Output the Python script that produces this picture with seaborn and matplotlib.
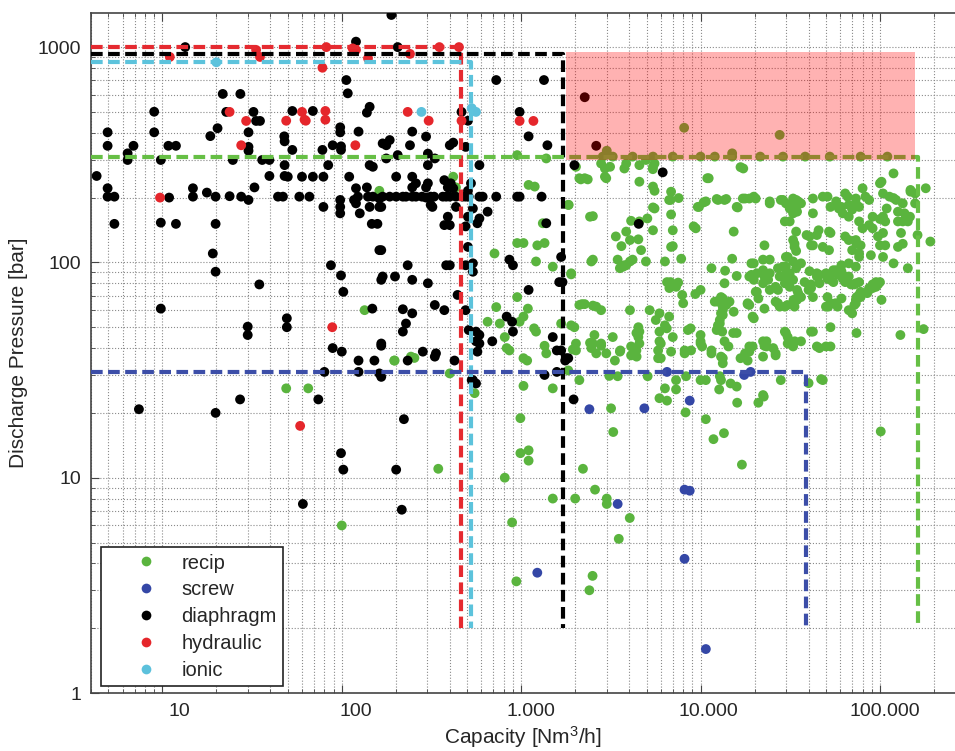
import pandas as pd
import matplotlib
matplotlib.use("Agg")
import matplotlib.pyplot as plt
import matplotlib.ticker as mticker
import matplotlib.transforms as mtransforms
from matplotlib.lines import Line2D
from matplotlib.patches import Rectangle
import seaborn as sns

# compressor types, legend order
types = ["recip", "screw", "diaphragm", "hydraulic", "ionic"]
point_colors = {"recip": "#5ab43e", "screw": "#3447a6", "diaphragm": "#000000",
                "hydraulic": "#e5262b", "ionic": "#5cc1dc"}

# (capacity [Nm3/h], discharge pressure [bar])
recip = [
    (49, 26), (65, 26), (134, 60), (196, 35), (345, 11), (100, 6), (162, 215), (418, 250), (433, 223),
    (197, 35), (243, 36.5), (254, 36), (400, 30.5), (550, 24.7),
    (950, 315), (1380, 304), (1100, 229), (1190, 225), (1320, 152), (1830, 185), (950, 123), (1030, 123),
    (1230, 120), (1350, 123), (710, 110), (1210, 101), (1500, 95.5), (1900, 89), (950, 69), (726, 62),
    (1090, 61), (650, 53), (760, 52), (810, 45), (1030, 56), (980, 53), (1180, 49.4), (1210, 47.7),
    (830, 40), (860, 39), (1350, 41), (1380, 37.8), (1030, 35.9), (1080, 35), (1900, 51), (1670, 52),
    (1030, 26.7), (1500, 26), (1830, 31.5), (990, 18.9), (990, 13), (1100, 13.4), (1100, 12), (810, 10),
    (890, 6.2), (940, 3.3), (1500, 8), (1940, 39.4), (2020, 42), (2020, 39), (1980, 50), (1840, 185),
    (1900, 88), (2020, 278),
    # 2.000 - 10.000, upper
    (2150, 243), (2350, 243), (2930, 273), (2930, 250), (3760, 273), (4560, 283), (4560, 237), (5430, 278),
    (5540, 288), (5420, 271), (2510, 164), (4100, 156), (5050, 160), (6850, 167), (5430, 180), (5540, 215),
    (6800, 195), (7550, 199), (9800, 181), (10400, 190), (9150, 147), (9400, 144), (3850, 139), (4500, 128),
    (3620, 119), (7000, 119), (2110, 246), (2260, 246), (2980, 246), (3130, 278), (2790, 288), (3850, 288),
    (2420, 163), (4960, 299), (5430, 225), (5430, 141), (3370, 132), (4040, 127), (9650, 181), (5540, 178),
    (6680, 195), (2460, 101), (3550, 94), (3770, 97), (4040, 101), (4960, 101), (6330, 101), (7800, 104),
    (2510, 103), (3450, 103), (4180, 103), (3700, 95.5), (3850, 97), (4660, 114), (4560, 155), (6850, 118),
    (7000, 141), (6850, 213), (2850, 310), (3240, 310), (4180, 310), (5430, 310), (7000, 310),
    # 2.000 - 10.000, lower
    (6500, 81), (6700, 76), (7500, 80.6), (7900, 70.6), (8000, 64.6), (9350, 71.3), (7300, 77), (6800, 81),
    (2180, 64), (2510, 63), (2790, 60), (4040, 60), (5200, 60), (5900, 58), (2110, 63.4), (2620, 62.3),
    (2260, 64), (5630, 54), (6680, 56), (3240, 45), (4500, 50), (4560, 47.7), (4500, 45), (6330, 51),
    (6480, 49.4), (8500, 48.5), (7000, 45), (5900, 47.7), (8800, 49.4), (2560, 46), (2510, 42), (2790, 41),
    (2420, 42.3), (2460, 40), (2620, 37.8), (2790, 42), (2980, 37.8), (3330, 35), (3570, 39), (3550, 38.5),
    (4100, 40.7), (4100, 37), (4400, 36.5), (4390, 47), (4560, 42), (4390, 39), (5900, 43), (5800, 35.9),
    (5800, 39), (6000, 35.9), (6000, 42), (6850, 38.5), (8150, 37.8), (8850, 39), (8150, 39), (2110, 28.4),
    (3100, 29.7), (3450, 29.6), (5070, 29.6), (8300, 29.6), (6330, 26), (7300, 25.7), (7300, 28.4),
    (5900, 23.4), (6500, 22.8), (3170, 21), (8250, 20.1), (3260, 16.3), (2210, 11), (2000, 8), (2580, 8.8),
    (3000, 8), (3000, 7.55), (4030, 6.5), (3500, 5.2), (2500, 3.5), (2400, 3.0),
    # 10.000 - 40.000, upper
    (10000, 310), (12000, 310), (15000, 310), (21500, 310), (28800, 310), (10900, 246), (11100, 246),
    (16700, 277), (17300, 273), (12300, 197), (13900, 197), (17200, 198), (18700, 198), (20300, 198),
    (12500, 195), (13600, 195), (15900, 181), (16100, 180), (17700, 198), (19800, 202), (10700, 192),
    (24300, 188), (28000, 195), (29900, 188), (32800, 198), (34100, 181), (28800, 195), (31400, 185),
    (34100, 195), (36300, 188), (32800, 169), (24300, 192), (35000, 192), (31400, 178), (34500, 172),
    (31400, 155), (29500, 155), (15300, 139), (33400, 122), (32800, 127), (34100, 139), (39000, 134),
    (22700, 120), (33400, 118),
    # 10.000 - 40.000, middle
    (11500, 94), (13700, 91.5), (15900, 86.5), (19200, 99), (19200, 87.5), (15000, 104), (10000, 74.5),
    (13600, 80), (12000, 65.7), (13300, 68), (13900, 63.4), (14500, 65.7), (13300, 60), (13300, 57),
    (18300, 64), (20300, 73), (22300, 103), (24300, 103), (19800, 99), (18700, 86), (20600, 89), (22700, 86),
    (24300, 89), (34100, 113), (30600, 106), (32800, 101), (34500, 97), (36300, 99), (28800, 95.5),
    (27600, 86), (29500, 87.5), (31400, 86), (32800, 83), (22300, 92), (27000, 94), (29900, 106),
    (34100, 94), (29900, 95.5), (31400, 89), (19800, 83), (22300, 80), (23800, 83), (24300, 74.5),
    (20600, 73), (21000, 68), (26200, 77), (27000, 74.5), (29500, 80), (31400, 77), (34500, 74.5),
    (36300, 69), (38000, 81), (40000, 74.5), (35000, 72), (34500, 67), (33000, 67), (30500, 63.4),
    (13000, 69), (12500, 65.7), (13300, 62.3), (13000, 58), (15300, 59), (18300, 64.6), (22700, 61),
    (27000, 64.6), (29500, 62.3), (26200, 65.7), (27600, 62.3), (33400, 62.3), (18700, 63.4), (19500, 56),
    (19800, 55),
    # 10.000 - 40.000, lower
    (12800, 52), (13200, 47.7), (15200, 47), (12800, 54), (12500, 51), (12300, 48.5), (10000, 46),
    (10000, 43), (10000, 42), (10200, 40.7), (11500, 39), (11500, 37.8), (13000, 36.5), (13300, 34),
    (13300, 35.9), (13600, 43), (16700, 35.9), (18700, 38.5), (19500, 40.7), (15900, 47), (14300, 40.7),
    (18700, 40.7), (17700, 37.8), (18300, 35), (22300, 43), (23300, 40.7), (25400, 40), (22300, 36.5),
    (26200, 37), (22700, 41), (26200, 37.8), (23300, 43), (29900, 47), (29500, 47.7), (30600, 45),
    (30600, 42), (32800, 40.7), (31400, 42), (33500, 43), (36300, 43), (10000, 28.4), (12800, 29.6),
    (14700, 27.4), (12700, 25.7), (10700, 28.4), (13000, 28.4), (15900, 26.5), (22300, 24.2), (28000, 28.4),
    (40000, 27.5), (16000, 22.3), (21000, 22.3), (22500, 23.8), (10700, 18.7), (11800, 15.1), (13500, 16.1),
    (17000, 11.5),
    # above 40.000, upper
    (38300, 310), (52500, 310), (78000, 310), (110000, 310), (42300, 198), (48000, 202), (53000, 181),
    (57000, 192), (61000, 181), (66000, 202), (73400, 198), (76500, 181), (83000, 202), (87000, 195),
    (104000, 209), (113000, 202), (123000, 195), (148000, 217), (157000, 209), (157000, 188), (100000, 233),
    (119000, 259), (180000, 221), (104000, 163), (126000, 172), (143000, 155), (126000, 155), (162000, 134),
    (191000, 125), (80000, 221), (64000, 209), (102000, 237), (42300, 169), (51000, 202), (59000, 178),
    (62000, 169), (67000, 163), (70000, 176), (73400, 188), (76500, 155), (67000, 185), (109000, 178),
    (107000, 155), (119000, 199), (134000, 188), (137000, 169), (147000, 163), (134000, 155), (148000, 213),
    # above 40.000, middle
    (53000, 137), (44500, 134), (40500, 132), (41300, 120), (64000, 132), (73400, 127), (78000, 120),
    (70000, 114), (76500, 110), (97500, 132), (107000, 120), (91000, 144), (131000, 137), (134000, 122),
    (89000, 108), (119000, 99), (143000, 94), (45500, 141), (52000, 139), (42300, 120), (48000, 118),
    (52000, 114), (67000, 127), (74000, 122), (80000, 144), (87000, 149), (91000, 163), (100000, 159),
    (104000, 137), (100000, 120), (104000, 106), (126000, 118), (76500, 106), (67000, 99), (61000, 97),
    (55000, 92), (53000, 87.5), (61000, 91), (64000, 86), (67000, 86), (69000, 79), (72000, 79), (55000, 81),
    (51000, 84), (40500, 91), (44500, 89), (46000, 87.5), (50000, 89), (53000, 83), (57000, 92),
    (59000, 87.5), (62000, 84), (64000, 81), (73400, 80), (76500, 81), (73400, 95.5), (95000, 81),
    (91000, 79), (87000, 74.5), (80000, 72), (76500, 70.6), (73400, 67), (72000, 63.4), (102000, 67),
    (44500, 86), (46000, 80), (41300, 79), (40500, 76), (42300, 69), (41300, 76), (51000, 69), (51500, 62.3),
    (53000, 64.6), (56500, 64.6), (67000, 60), (78000, 73), (85000, 72), (91000, 76), (97500, 79),
    (100000, 81), (74000, 69), (50000, 62.3), (58000, 62.3), (61000, 68), (70000, 58), (73400, 64.6),
    (78000, 69), (87000, 76), (95000, 77),
    # above 40.000, lower
    (42300, 47.7), (44500, 40.7), (53000, 40.7), (74000, 47), (130000, 46), (175000, 49), (53000, 50),
    (41300, 47.7), (46000, 40), (50000, 40.7), (48000, 28.4), (47000, 28.7), (101000, 16.4),
    # inside the shaded box
    (3000, 330), (8100, 422), (27600, 391), (15000, 321),
]

screw = [
    (2400, 20.8), (4860, 21), (8700, 22.8), (3450, 7.55), (8140, 8.8), (8700, 8.7), (8140, 4.2),
    (1230, 3.62), (10700, 1.6), (6500, 31), (17500, 30), (19000, 31),
]

diaphragm = [
    (13.4, 1000), (189, 1410), (120, 1060), (205, 1000),
    (21.7, 606), (27.2, 606), (106, 703), (108, 610), (726, 703), (1340, 703), (2260, 585),
    (9.0, 501), (22.7, 500), (32.2, 500), (53, 505), (69, 505), (143, 528), (138, 496), (465, 500), (980, 500),
    (33.3, 454), (35, 454), (505, 455),
    (4.95, 402), (9.0, 402), (20.3, 420), (18.5, 386), (30.2, 402), (47.8, 385), (98, 424), (98, 402),
    (124, 405), (247, 405), (295, 384), (1100, 385),
    (4.95, 348), (6.9, 348), (10.8, 348), (11.9, 348), (30.2, 344), (30.2, 330), (48, 365), (53, 333),
    (78, 333), (89, 350), (99, 346), (99, 333), (169, 357), (185, 370), (177, 350), (240, 350), (400, 350),
    (418, 360), (490, 344), (1400, 350), (2620, 348),
    (6.4, 321), (6.4, 299), (9.8, 299), (24.7, 299), (36, 299), (39.5, 299), (177, 304), (205, 315),
    (302, 320), (330, 304),
    (48, 283), (84, 283), (143, 283), (149, 278), (302, 283), (585, 283), (1980, 283),
    (4.3, 252), (39.5, 252), (48, 252), (50, 250), (60, 250), (69, 250), (79, 250), (110, 250), (201, 250),
    (247, 250), (6150, 262),
    (4.95, 221), (4.95, 202), (5.4, 202), (10.9, 200), (14.8, 221), (14.8, 202), (17.7, 211), (19.8, 202),
    (23.7, 203), (27.5, 202), (30.2, 195), (32.6, 223), (44.1, 202),
    (47, 202), (58, 202), (66, 202), (98, 195), (117, 195), (123, 202), (140, 202), (149, 202), (162, 198),
    (169, 202), (185, 202), (201, 202), (219, 202), (228, 202), (247, 202), (259, 202), (280, 202),
    (295, 200), (313, 202), (327, 202), (366, 202), (382, 202), (400, 202), (433, 202), (470, 202),
    (490, 202), (510, 202), (585, 202), (610, 202), (726, 202), (950, 202), (980, 202), (1300, 202),
    (313, 185), (120, 221), (138, 223), (247, 223), (259, 233), (295, 223), (302, 233), (373, 241),
    (390, 223), (405, 233), (418, 221), (525, 233), (505, 215),
    (79, 181), (98, 181), (143, 181), (162, 181), (166, 181), (320, 181), (433, 181), (538, 178),
    (98, 169), (126, 169), (120, 188), (390, 163), (490, 147), (505, 163), (585, 160), (570, 152),
    (650, 172), (1380, 152), (373, 149), (400, 149), (4520, 151),
    (5.4, 151), (9.8, 153), (11.9, 151), (19.8, 151), (147, 151), (158, 151),
    (166, 114), (166, 83), (198, 86),
    (19.1, 110), (19.8, 90.5), (34.7, 79), (9.8, 61), (29.9, 50.3), (29.9, 46), (49.4, 55), (49.4, 50),
    (87, 97), (99, 87), (102, 73), (89, 40), (100, 38.5), (124, 35), (152, 35), (148, 61), (166, 41),
    (166, 29.4), (80, 31), (124, 31),
    (162, 114), (169, 86), (247, 83), (302, 80), (233, 97), (382, 97), (400, 97), (505, 118), (490, 97),
    (538, 99), (538, 90.5), (860, 103), (900, 97), (1670, 106), (1630, 81), (1700, 81), (442, 70.6),
    (330, 63.4), (373, 60), (219, 60.6), (247, 58), (1100, 74.5), (228, 52), (219, 47.7), (490, 60),
    (830, 56), (890, 53), (900, 47.7), (560, 47.7), (585, 46), (585, 42), (560, 43), (510, 48.5), (690, 43),
    (1500, 45), (1580, 39), (1670, 39), (1830, 35.9), (166, 42), (283, 38.5), (330, 36.5), (335, 37.8),
    (233, 35), (425, 35), (560, 27.4), (538, 28.4), (1960, 23.1), (162, 30.5), (570, 38.5), (1350, 30),
    (1580, 31), (1760, 35), (1780, 35.9), (530, 28.4),
    (7.4, 20.8), (19.8, 20), (27.1, 23.1), (74, 23.1), (222, 18.7), (99, 13), (102, 10.9), (201, 10.9),
    (60.7, 7.55), (216, 7.1),
]

hydraulic = [
    (11, 900), (33.3, 970), (35, 900), (115, 986), (120, 970), (82, 1000), (140, 887), (350, 1000),
    (450, 1000), (240, 930), (78, 802), (60, 500), (62, 460), (63, 455), (49, 455), (81, 505), (81, 460),
    (23.7, 500), (29.3, 454), (27.5, 350), (9.7, 200), (233, 500), (305, 455), (465, 455), (119, 350),
    (980, 454), (1170, 454), (58.6, 17.4), (88.5, 50),
]

ionic = [(20, 850), (278, 500), (560, 500), (530, 520)]

# envelope per type: capacity limit, pressure limit
limit_types = ["hydraulic", "ionic", "diaphragm", "recip", "screw"]
limit_cap = [462, 526, 1700, 163700, 38500]
limit_p = [1000, 855, 927, 308, 31]
limit_colors = ["#e52a30", "#5cc3dc", "#000000", "#66bf45", "#3c4ea8"]
limit_floor = 2

# shaded region (capacity range, pressure range)
box_cap = [1770, 157000]
box_p = [300, 950]

# axis tick values and labels
xticks = [10, 100, 1000, 10000, 100000]
xticklabels = ["10", "100", "1.000", "10.000", "100.000"]
yticks = [1, 10, 100, 1000]
yticklabels = ["1", "10", "100", "1000"]

rows = []
for name, pts in zip(types, [recip, screw, diaphragm, hydraulic, ionic]):
    for c, p in pts:
        rows.append((name, c, p))
df = pd.DataFrame(rows, columns=["type", "capacity", "pressure"])

sns.set_style("ticks")
plt.rcParams["font.family"] = ["Liberation Sans", "DejaVu Sans"]
plt.rcParams["mathtext.fontset"] = "custom"
plt.rcParams["mathtext.rm"] = "Liberation Sans"
plt.rcParams["mathtext.default"] = "regular"

fig = plt.figure(figsize=(9.55, 7.51), dpi=100)
ax = fig.add_axes([91 / 955, 58 / 751, 864 / 955, 680 / 751])
ax.set_xscale("log")
ax.set_yscale("log")
xlo, xhi = 4, 262000
ax.set_xlim(xlo, xhi)
ax.set_ylim(1, 1440)

sns.scatterplot(data=df, x="capacity", y="pressure", hue="type", hue_order=types,
                palette=point_colors, s=50, linewidth=0, legend=False, ax=ax, zorder=3)

for cap, p, col in zip(limit_cap, limit_p, limit_colors):
    ax.plot([xlo, cap, cap], [p, p, limit_floor], color=col, lw=3,
            dashes=(2.8, 1.3), zorder=4, clip_on=False)

ax.add_patch(Rectangle((box_cap[0], box_p[0]), box_cap[1] - box_cap[0], box_p[1] - box_p[0],
                       facecolor="red", alpha=0.3, edgecolor="none", zorder=5))

ax.xaxis.set_major_locator(mticker.FixedLocator(xticks))
ax.xaxis.set_major_formatter(mticker.FixedFormatter(xticklabels))
ax.xaxis.set_minor_locator(mticker.LogLocator(base=10, subs=range(2, 10), numticks=20))
ax.xaxis.set_minor_formatter(mticker.NullFormatter())
ax.yaxis.set_major_locator(mticker.FixedLocator(yticks))
ax.yaxis.set_major_formatter(mticker.FixedFormatter(yticklabels))
ax.yaxis.set_minor_locator(mticker.LogLocator(base=10, subs=range(2, 10), numticks=20))
ax.yaxis.set_minor_formatter(mticker.NullFormatter())

ax.grid(True, which="both", linestyle=":", color="#8a8a8a", linewidth=0.8, zorder=1)
ax.set_axisbelow(True)
ax.tick_params(which="both", direction="in", top=True, right=False, labelsize=14, pad=7, color="#444444")
ax.tick_params(which="major", length=6)
ax.tick_params(which="minor", length=3)
for side in ["left", "bottom", "top"]:
    ax.spines[side].set_color("#444444")
    ax.spines[side].set_linewidth(1.2)
ax.spines["right"].set_visible(False)

# the original's x tick labels sit a little right of their ticks
label_shift = [0.17, 0.14, 0.10, 0.08, 0.05]
for lab, dx in zip(ax.get_xticklabels(), label_shift):
    lab.set_transform(lab.get_transform() + mtransforms.ScaledTranslation(dx, 0, fig.dpi_scale_trans))

ax.set_xlabel("Capacity [Nm$^3$/h]", fontsize=15, labelpad=3)
ax.set_ylabel("Discharge Pressure [bar]", fontsize=15, labelpad=7)

handles = [Line2D([], [], marker="o", linestyle="", markersize=7, markerfacecolor=point_colors[t],
                  markeredgewidth=0) for t in types]
leg = ax.legend(handles, types, loc="lower left", bbox_to_anchor=(0.0116, 0.0103), borderaxespad=0,
                frameon=True, fancybox=False, framealpha=1, edgecolor="#222222", fontsize=14.5,
                borderpad=0.3, handlelength=3.9, handletextpad=-0.2, labelspacing=0.39)
leg.get_frame().set_linewidth(1.2)
leg.set_zorder(6)

fig.savefig("out.png", dpi=100)
